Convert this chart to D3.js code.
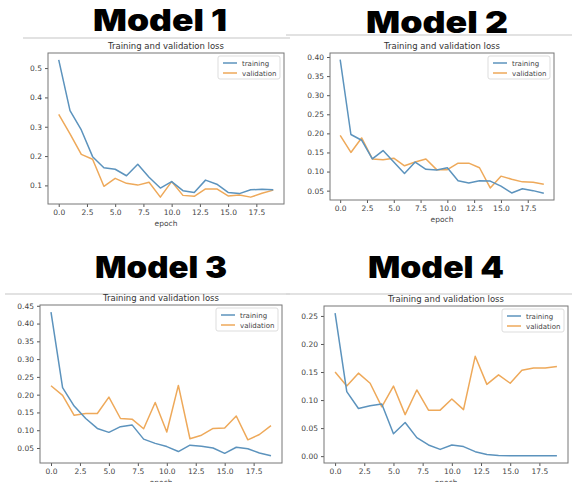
<!DOCTYPE html>
<html>
<head>
<meta charset="utf-8">
<script src="https://d3js.org/d3.v7.min.js"></script>
<style>
  body { margin: 0; background: #fff; }
  svg { display: block; }
  .tick text { font-family: "DejaVu Sans", sans-serif; fill: #444; }
</style>
</head>
<body>
<svg width="572" height="482"></svg>
<script>
// epochs and x tick labels shared by all four charts
var epochs = [0, 1, 2, 3, 4, 5, 6, 7, 8, 9, 10, 11, 12, 13, 14, 15, 16, 17, 18, 19];
var xTicks = [0, 2.5, 5, 7.5, 10, 12.5, 15, 17.5];
var seriesNames = ["training", "validation"];

// loss values
var model1Train = [0.528, 0.355, 0.289, 0.198, 0.160, 0.155, 0.133, 0.172, 0.128, 0.091, 0.113, 0.082, 0.076, 0.118, 0.104, 0.076, 0.072, 0.085, 0.087, 0.085];
var model1Val   = [0.342, 0.276, 0.206, 0.189, 0.097, 0.124, 0.107, 0.101, 0.111, 0.060, 0.113, 0.066, 0.063, 0.088, 0.088, 0.064, 0.067, 0.060, 0.073, 0.084];
var model2Train = [0.393, 0.197, 0.182, 0.133, 0.155, 0.125, 0.095, 0.125, 0.106, 0.104, 0.110, 0.076, 0.070, 0.076, 0.075, 0.062, 0.044, 0.055, 0.050, 0.043];
var model2Val   = [0.195, 0.150, 0.188, 0.133, 0.131, 0.135, 0.115, 0.125, 0.133, 0.105, 0.105, 0.122, 0.122, 0.110, 0.057, 0.088, 0.080, 0.073, 0.072, 0.067];
var model3Train = [0.432, 0.220, 0.168, 0.133, 0.105, 0.094, 0.110, 0.115, 0.075, 0.063, 0.054, 0.040, 0.058, 0.055, 0.050, 0.035, 0.052, 0.048, 0.036, 0.028];
var model3Val   = [0.225, 0.198, 0.142, 0.147, 0.147, 0.193, 0.133, 0.131, 0.104, 0.178, 0.095, 0.226, 0.076, 0.086, 0.105, 0.106, 0.140, 0.073, 0.088, 0.113];
var model4Train = [0.255, 0.115, 0.085, 0.090, 0.093, 0.040, 0.060, 0.033, 0.020, 0.012, 0.020, 0.017, 0.008, 0.003, 0.001, 0.0008, 0.0006, 0.0005, 0.0005, 0.0005];
var model4Val   = [0.150, 0.125, 0.148, 0.130, 0.088, 0.125, 0.074, 0.118, 0.082, 0.082, 0.102, 0.083, 0.178, 0.128, 0.145, 0.130, 0.153, 0.157, 0.157, 0.160];

// y tick labels per chart
var model1YTicks = [0.1, 0.2, 0.3, 0.4, 0.5];
var model2YTicks = [0.05, 0.10, 0.15, 0.20, 0.25, 0.30, 0.35, 0.40];
var model3YTicks = [0.05, 0.10, 0.15, 0.20, 0.25, 0.30, 0.35, 0.40, 0.45];
var model4YTicks = [0.00, 0.05, 0.10, 0.15, 0.20, 0.25];

var blue = "#5c93bd", orange = "#eea95a";

var panels = [
  {name: "Model 1", train: model1Train, val: model1Val, yTicks: model1YTicks, yFmt: ".1f",
   frame: [48, 53, 284, 204], head: [160, 31, 134], rule: [23, 290, 38]},
  {name: "Model 2", train: model2Train, val: model2Val, yTicks: model2YTicks, yFmt: ".2f",
   frame: [330, 53, 554, 200], head: [437, 33, 142], rule: [286, 572, 35]},
  {name: "Model 3", train: model3Train, val: model3Val, yTicks: model3YTicks, yFmt: ".2f",
   frame: [40, 305, 282, 463], head: [161, 278, 132], rule: [5, 290, 294]},
  {name: "Model 4", train: model4Train, val: model4Val, yTicks: model4YTicks, yFmt: ".2f",
   frame: [324, 306, 568, 463], head: [436, 278, 136], rule: [286, 572, 294]}
];

var svg = d3.select("svg");

panels.forEach(function(p) {
  var left = p.frame[0], top = p.frame[1], right = p.frame[2], bottom = p.frame[3];
  var g = svg.append("g");

  // big heading and the grey rule under it
  g.append("line")
    .attr("x1", p.rule[0]).attr("x2", p.rule[1])
    .attr("y1", p.rule[2]).attr("y2", p.rule[2])
    .attr("stroke", "#d8d8d8").attr("stroke-width", 1.5);
  g.append("text")
    .attr("x", p.head[0]).attr("y", p.head[1])
    .attr("text-anchor", "middle")
    .attr("textLength", p.head[2]).attr("lengthAdjust", "spacingAndGlyphs")
    .style("font-family", "Inter, 'Liberation Sans', sans-serif")
    .style("font-weight", 900).style("font-size", "30px")
    .attr("fill", "#000")
    .text(p.name);

  // scales with matplotlib's 5% margins
  var x = d3.scaleLinear().domain([-0.95, 19.95]).range([left, right]);
  var all = p.train.concat(p.val);
  var lo = d3.min(all), hi = d3.max(all), pad = (hi - lo) * 0.05;
  var y = d3.scaleLinear().domain([lo - pad, hi + pad]).range([bottom, top]);

  g.append("text")
    .attr("x", (left + right) / 2).attr("y", top - 4)
    .attr("text-anchor", "middle")
    .style("font-family", "'DejaVu Sans', sans-serif").style("font-size", "8.5px")
    .attr("fill", "#333")
    .text("Training and validation loss");

  g.append("g")
    .attr("transform", "translate(0," + bottom + ")")
    .call(d3.axisBottom(x).tickValues(xTicks).tickFormat(d3.format(".1f")).tickSize(3).tickPadding(3))
    .call(function(a) { a.select(".domain").remove(); })
    .call(function(a) { a.selectAll("line").attr("stroke", "#555"); })
    .call(function(a) { a.selectAll("text").style("font-size", "7.5px"); });

  g.append("text")
    .attr("x", (left + right) / 2).attr("y", bottom + 22)
    .attr("text-anchor", "middle")
    .style("font-family", "'DejaVu Sans', sans-serif").style("font-size", "7.5px")
    .attr("fill", "#444")
    .text("epoch");

  g.append("g")
    .attr("transform", "translate(" + left + ",0)")
    .call(d3.axisLeft(y).tickValues(p.yTicks).tickFormat(d3.format(p.yFmt)).tickSize(3).tickPadding(3))
    .call(function(a) { a.select(".domain").remove(); })
    .call(function(a) { a.selectAll("line").attr("stroke", "#555"); })
    .call(function(a) { a.selectAll("text").style("font-size", "7.5px"); });

  var line = d3.line()
    .x(function(d, i) { return x(epochs[i]); })
    .y(function(d) { return y(d); });

  g.append("path").datum(p.val)
    .attr("d", line).attr("fill", "none")
    .attr("stroke", orange).attr("stroke-width", 1.5).attr("stroke-linejoin", "round");
  g.append("path").datum(p.train)
    .attr("d", line).attr("fill", "none")
    .attr("stroke", blue).attr("stroke-width", 1.5).attr("stroke-linejoin", "round");

  g.append("rect")
    .attr("x", left).attr("y", top)
    .attr("width", right - left).attr("height", bottom - top)
    .attr("fill", "none").attr("stroke", "#777").attr("stroke-width", 1);

  // legend, upper right
  var lw = 62, lh = 23;
  var leg = g.append("g").attr("transform", "translate(" + (right - 4 - lw) + "," + (top + 3) + ")");
  leg.append("rect")
    .attr("width", lw).attr("height", lh).attr("rx", 2)
    .attr("fill", "#fff").attr("stroke", "#ddd");
  seriesNames.forEach(function(s, i) {
    var yy = 7 + i * 10;
    leg.append("line")
      .attr("x1", 5).attr("x2", 19).attr("y1", yy).attr("y2", yy)
      .attr("stroke", i === 0 ? blue : orange).attr("stroke-width", 1.5);
    leg.append("text")
      .attr("x", 24).attr("y", yy + 2.5)
      .style("font-family", "'DejaVu Sans', sans-serif").style("font-size", "7px")
      .attr("fill", "#444")
      .text(s);
  });
});
</script>
</body>
</html>
